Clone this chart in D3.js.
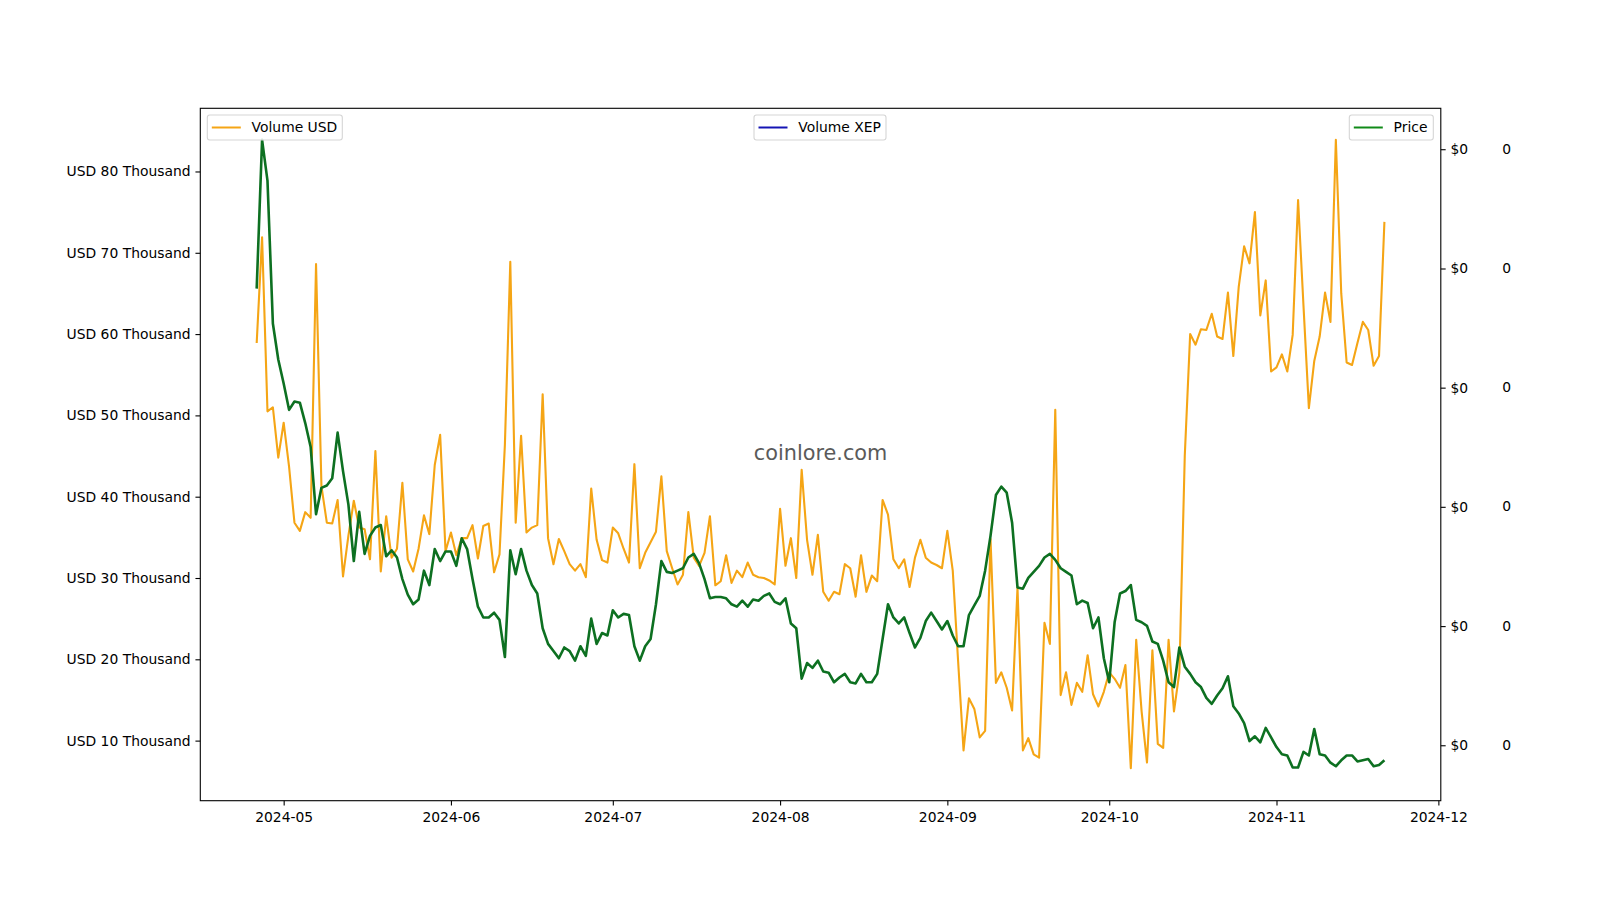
<!DOCTYPE html>
<html><head><meta charset="utf-8">
<script src="https://cdn.jsdelivr.net/npm/d3@7"></script>
<style>body{margin:0;background:#fff}svg{display:block}</style>
</head><body>
<svg id="c" width="1600" height="900"></svg>
<script>
// ---------- data ----------
const startDate = "2024-04-26";   // first daily observation
const endDate   = "2024-11-21";   // last daily observation
// Volume in USD, thousands, one value per day
const volumeUsdK = [
58.9,71.9,50.5,51.0,44.8,49.1,43.7,36.8,35.8,38.1,
37.4,68.6,41.3,36.8,36.7,39.6,30.2,35.2,39.5,36.2,
36.0,32.3,45.6,30.8,37.6,32.5,33.6,41.7,32.3,30.8,
33.6,37.7,35.4,43.9,47.6,33.3,35.6,32.8,34.9,34.9,
36.5,32.4,36.4,36.7,30.7,32.9,46.4,68.9,36.8,47.5,
35.6,36.2,36.5,52.6,34.9,31.7,34.8,33.3,31.7,30.9,
31.7,30.1,41.0,34.7,32.2,31.9,36.2,35.5,33.6,31.9,
44.0,31.2,33.1,34.4,35.7,42.5,33.3,31.2,29.2,30.4,
38.1,32.5,31.5,33.1,37.6,29.1,29.6,32.8,29.4,30.9,
30.1,31.9,30.4,30.1,30.0,29.7,29.2,38.5,31.5,34.9,
30.0,43.3,34.7,30.4,35.3,28.3,27.2,28.3,28.0,31.7,
31.2,27.7,32.8,28.3,30.3,29.6,39.6,37.8,32.3,31.2,
32.3,28.9,32.5,34.7,32.5,31.9,31.6,31.2,35.8,30.9,
19.7,8.8,15.2,13.9,10.4,11.2,34.8,17.1,18.4,16.5,
13.7,28.8,8.8,10.3,8.3,7.9,24.5,21.9,50.7,15.6,
18.4,14.4,17.1,16.0,20.5,15.7,14.2,16.0,18.4,17.6,
16.5,19.3,6.6,22.4,13.6,7.3,21.1,9.6,9.1,22.4,
13.6,18.4,45.0,60.0,58.7,60.6,60.5,62.5,59.7,59.4,
65.1,57.3,65.8,70.8,68.7,75.0,62.3,66.6,55.4,55.9,
57.5,55.4,59.9,76.5,63.5,50.9,56.7,59.7,65.1,61.5,
83.9,65.0,56.5,56.2,58.9,61.5,60.5,56.1,57.3,73.8
];
// Price, in units of 1e-5 USD (all tick labels round to $0)
const priceE5 = [
4.83,6.07,5.73,4.54,4.24,4.04,3.82,3.89,3.88,3.71,
3.51,2.95,3.17,3.19,3.25,3.63,3.31,3.03,2.56,2.97,
2.62,2.77,2.84,2.86,2.60,2.65,2.59,2.41,2.28,2.20,
2.24,2.48,2.36,2.66,2.56,2.64,2.64,2.52,2.75,2.66,
2.41,2.18,2.09,2.09,2.13,2.07,1.76,2.65,2.45,2.66,
2.48,2.36,2.29,2.00,1.87,1.81,1.75,1.84,1.81,1.73,
1.85,1.77,2.08,1.87,1.96,1.94,2.15,2.09,2.12,2.11,
1.85,1.73,1.85,1.91,2.20,2.56,2.47,2.46,2.48,2.50,
2.59,2.62,2.54,2.41,2.25,2.26,2.26,2.25,2.20,2.18,
2.23,2.18,2.24,2.23,2.27,2.29,2.22,2.20,2.25,2.04,
2.00,1.58,1.71,1.67,1.73,1.64,1.63,1.55,1.59,1.62,
1.55,1.54,1.62,1.55,1.55,1.62,1.91,2.20,2.09,2.04,
2.09,1.96,1.84,1.92,2.06,2.13,2.06,1.99,2.06,1.94,
1.85,1.85,2.11,2.19,2.27,2.48,2.77,3.11,3.18,3.13,
2.88,2.34,2.33,2.42,2.47,2.52,2.59,2.62,2.57,2.50,
2.47,2.44,2.20,2.23,2.21,2.00,2.09,1.75,1.55,2.05,
2.29,2.31,2.36,2.07,2.05,2.02,1.89,1.87,1.73,1.55,
1.51,1.84,1.68,1.62,1.55,1.51,1.42,1.37,1.44,1.50,
1.60,1.35,1.29,1.21,1.06,1.10,1.05,1.17,1.09,1.01,
0.95,0.94,0.84,0.84,0.97,0.94,1.16,0.95,0.94,0.88,
0.85,0.90,0.94,0.94,0.89,0.90,0.91,0.85,0.86,0.90
];
const volumeXep = [];  // no visible values in the chart
const monthTicks = ["2024-05-01","2024-06-01","2024-07-01","2024-08-01","2024-09-01","2024-10-01","2024-11-01","2024-12-01"];
const usdTicksK = [10,20,30,40,50,60,70,80];
const priceTicksE5 = [1.025,2.018,3.012,4.005,4.998,5.992];
const legendUsd = "Volume USD", legendXep = "Volume XEP", legendPrice = "Price";
const watermark = "coinlore.com";

// ---------- layout ----------
const L = 200.3, R = 1440.8, T = 108.3, B = 800.7;
const FONT = "DejaVu Sans, Liberation Sans, sans-serif";
const FS = 13.89;
const svg = d3.select("#c");

const parse = d3.utcParse("%Y-%m-%d");
const t0 = parse(startDate), t1 = parse(endDate);
const dates = d3.utcDay.range(t0, d3.utcDay.offset(t1, 1));
const span = t1 - t0, pad = span * 0.05;
const x = d3.scaleUtc().domain([new Date(+t0 - pad), new Date(+t1 + pad)]).range([L, R]);
const yVol = d3.scaleLinear().domain([2.61, 87.77]).range([B, T]);
const yPrice = d3.scaleLinear().domain([0.563, 6.333]).range([B, T]);

// watermark
svg.append("text").attr("x", (L + R) / 2).attr("y", 460)
  .attr("text-anchor", "middle").attr("font-family", FONT).attr("font-size", 20.8)
  .attr("fill", "#5a5a5a").text(watermark);

// lines
svg.append("defs").append("clipPath").attr("id", "pc")
  .append("rect").attr("x", L).attr("y", T).attr("width", R - L).attr("height", B - T);
const g = svg.append("g").attr("clip-path", "url(#pc)");
const volData = dates.map((d, i) => ({d, v: volumeUsdK[i]}));
const priceData = dates.map((d, i) => ({d, v: priceE5[i]}));
g.append("path").datum(volData)
  .attr("d", d3.line().x(p => x(p.d)).y(p => yVol(p.v)))
  .attr("fill", "none").attr("stroke", "#f5a515").attr("stroke-width", 2.1).attr("stroke-linejoin", "round");
g.append("path").datum(priceData)
  .attr("d", d3.line().x(p => x(p.d)).y(p => yPrice(p.v)))
  .attr("fill", "none").attr("stroke", "#0d7021").attr("stroke-width", 2.6).attr("stroke-linejoin", "round");

// axes
function styleAxis(sel) {
  sel.select(".domain").remove();
  sel.selectAll("text").attr("font-family", FONT).attr("font-size", FS).attr("fill", "#000");
  sel.selectAll("line").attr("stroke", "#000").attr("stroke-width", 1.1);
}
const xAxis = d3.axisBottom(x).tickValues(monthTicks.map(parse))
  .tickFormat(d3.utcFormat("%Y-%m")).tickSize(4.86).tickPadding(6.8);
svg.append("g").attr("transform", `translate(0,${B})`).call(xAxis).call(styleAxis);

const yAxisL = d3.axisLeft(yVol).tickValues(usdTicksK)
  .tickFormat(v => `USD ${v} Thousand`).tickSize(4.86).tickPadding(4.86);
svg.append("g").attr("transform", `translate(${L},0)`).call(yAxisL).call(styleAxis);

const fmtPrice = d3.format("$,.0f");
const yAxisR = d3.axisRight(yPrice).tickValues(priceTicksE5)
  .tickFormat(v => fmtPrice(v * 1e-5)).tickSize(4.86).tickPadding(4.86);
svg.append("g").attr("transform", `translate(${R},0)`).call(yAxisR).call(styleAxis);

// third axis (Volume XEP) : labels only
svg.append("g").selectAll("text").data(priceTicksE5).join("text")
  .attr("x", 1502.3).attr("y", v => yPrice(v)).attr("dy", "0.32em")
  .attr("font-family", FONT).attr("font-size", FS).attr("fill", "#000")
  .text(() => d3.format(",.0f")(0));

// frame
svg.append("rect").attr("x", L).attr("y", T).attr("width", R - L).attr("height", B - T)
  .attr("fill", "none").attr("stroke", "#000").attr("stroke-width", 1.1);

// legends
function legend(x0, x1, label, color) {
  const lg = svg.append("g");
  lg.append("rect").attr("x", x0).attr("y", 115).attr("width", x1 - x0).attr("height", 25)
    .attr("rx", 2.5).attr("fill", "#fff").attr("fill-opacity", 0.8)
    .attr("stroke", "#d5d5d5").attr("stroke-width", 1.1);
  lg.append("line").attr("x1", x0 + 4.5).attr("x2", x0 + 33.5).attr("y1", 127.5).attr("y2", 127.5)
    .attr("stroke", color).attr("stroke-width", 2.0);
  lg.append("text").attr("x", x0 + 44.3).attr("y", 127.5).attr("dy", "0.35em")
    .attr("font-family", FONT).attr("font-size", FS).attr("fill", "#000").text(label);
}
legend(207.3, 342.3, legendUsd, "#f5a515");
legend(754, 886, legendXep, "#1414b4");
legend(1349.3, 1433.3, legendPrice, "#108a18");
</script>
</body></html>
